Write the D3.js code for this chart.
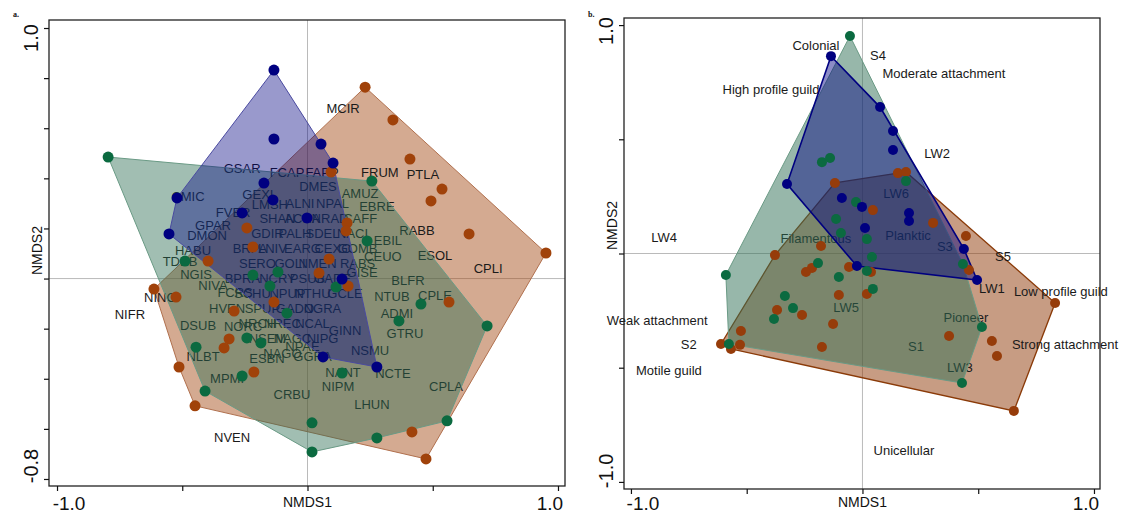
<!DOCTYPE html>
<html><head><meta charset="utf-8">
<script src="https://cdn.jsdelivr.net/npm/d3@7"></script>
<style>body{margin:0;background:#fff;} svg{display:block;font-family:"Liberation Sans",Arial,sans-serif;}</style>
</head><body><svg id="c" width="1131" height="514"></svg>
<script>
// ---------- Panel a data (NMDS1, NMDS2) ----------
const leftBlue = [[-0.134,0.832],[-0.134,0.557],[-0.174,0.381],[-0.521,0.322],[-0.138,0.314],[-0.261,0.262],[-0.553,0.178],[0.054,0.537],[0.102,0.461],[-0.002,0.242],[0.138,-0.002],[0.062,-0.313],[0.277,-0.353]];
const leftGreen = [[-0.796,0.485],[0.257,0.389],[0.238,0.150],[-0.489,0.070],[-0.218,0.014],[-0.118,0.026],[-0.150,-0.030],[-0.082,-0.138],[-0.445,-0.274],[-0.242,-0.237],[-0.186,-0.257],[-0.261,-0.389],[-0.409,-0.449],[0.114,-0.034],[0.453,-0.102],[0.365,-0.169],[0.717,-0.189],[0.138,-0.377],[0.557,-0.568],[0.018,-0.576],[0.277,-0.636],[0.018,-0.692]];
const leftOrange = [[0.230,0.764],[0.341,0.633],[0.409,0.477],[0.537,0.357],[0.493,0.310],[0.645,0.178],[0.952,0.102],[0.094,0.425],[0.158,0.222],[0.154,0.190],[0.086,0.078],[0.046,0.022],[0.162,-0.030],[0.565,-0.094],[0.417,-0.612],[0.473,-0.720],[-0.242,0.202],[-0.218,0.126],[-0.397,0.070],[-0.613,-0.042],[-0.525,-0.074],[-0.293,-0.130],[-0.134,-0.094],[-0.313,-0.241],[-0.333,-0.277],[-0.513,-0.353],[-0.214,-0.373],[-0.449,-0.508]];
const leftLabels = [
 ["MCIR",0.142,0.680],["FRUM",0.289,0.425],["PTLA",0.461,0.417],["RABB",0.437,0.194],["ESOL",0.509,0.094],
 ["CPLI",0.721,0.042],["CPLE",0.509,-0.066],["NTUB",0.337,-0.070],["BLFR",0.401,-0.006],["GISE",0.218,0.026],
 ["CEUO",0.301,0.090],["EBIL",0.321,0.154],["ADMI",0.357,-0.138],["GTRU",0.389,-0.218],["NSMU",0.250,-0.286],
 ["GINN",0.150,-0.206],["NCTE",0.341,-0.377],["NANT",0.142,-0.373],["NIPM",0.122,-0.429],["LHUN",0.257,-0.501],
 ["CPLA",0.553,-0.429],["CRBU",-0.062,-0.461],["NVEN",-0.301,-0.636],["NIFR",-0.709,-0.142],["NINC",-0.589,-0.074],
 ["DSUB",-0.437,-0.189],["NLBT",-0.417,-0.309],["MPMI",-0.321,-0.397],["ESBN",-0.162,-0.317],["NGIS",-0.445,0.018],
 ["TDEB",-0.509,0.070],["NIVA",-0.377,-0.026],["FCRS",-0.289,-0.054],["HVEN",-0.321,-0.118],["NORC",-0.257,-0.193],
 ["HABU",-0.457,0.114],["DMON",-0.401,0.174],["GPAR",-0.377,0.210],["FVER",-0.297,0.262],["CMIC",-0.477,0.326],
 ["GEXI",-0.198,0.337],["GSAR",-0.261,0.441],["FCAP",-0.082,0.425],["FAPP",0.058,0.425],["DMES",0.042,0.369],
 ["AMUZ",0.210,0.341],["EBRE",0.277,0.286],["LMSH",-0.150,0.294],
 ["ALNI",-0.03,0.30],["NPAL",0.10,0.30],["CAFF",0.21,0.24],["SHAN",-0.12,0.24],["ACHA",-0.02,0.24],["NRAD",0.09,0.24],
 ["GDIR",-0.16,0.18],["PALH",-0.05,0.18],["SDEL",0.06,0.18],["NACI",0.18,0.18],["BRPA",-0.23,0.12],["LNIV",-0.14,0.12],
 ["EARG",-0.02,0.12],["CEXC",0.10,0.12],["GOMB",0.20,0.12],["SERO",-0.20,0.06],["GOLI",-0.07,0.06],["NMEN",0.04,0.06],
 ["RABS",0.20,0.06],["BPRA",-0.26,0.00],["NCRY",-0.12,0.00],["PSUB",0.00,0.00],["GADE",0.10,0.00],["SCHU",-0.22,-0.06],
 ["NPUP",-0.08,-0.06],["NTHU",0.02,-0.06],["GCLE",0.15,-0.06],["SPUP",-0.18,-0.12],["GADO",-0.05,-0.12],["NGRA",0.06,-0.12],
 ["NRCH",-0.20,-0.18],["NREC",-0.10,-0.18],["NCAL",0.02,-0.18],["NSEM",-0.16,-0.24],["NAGC",-0.06,-0.24],["NIPG",0.06,-0.24],
 ["NAGO",-0.10,-0.30],["GGRA",0.02,-0.31],["NPAE",-0.02,-0.27]
];
const leftXTicks = [-1.0,-0.5,0,0.5,1.0];
const leftYTicks = [1.0,0.8,0.6,0.4,0.2,0,-0.2,-0.4,-0.6,-0.8];
const leftXTickLabels = ["-1.0","1.0"];
const leftYTickLabels = ["1.0","-0.8"];

// ---------- Panel b data ----------
const rightBlue = [[-0.136,0.864],[0.076,0.641],[0.132,0.536],[0.132,0.453],[-0.326,0.304],[-0.089,0.243],[-0.002,0.204],[0.201,0.177],[0.201,0.142],[0.011,0.112],[0.438,0.020],[-0.024,-0.055],[0.495,-0.116]];
const rightGreen = [[-0.054,0.952],[-0.175,0.400],[-0.140,0.418],[0.188,0.317],[-0.028,0.225],[-0.114,0.151],[-0.093,0.090],[0.019,0.063],[0.041,-0.015],[-0.192,-0.042],[0.019,-0.077],[0.434,-0.046],[-0.102,-0.103],[0.045,-0.155],[-0.335,-0.186],[-0.300,-0.239],[-0.382,-0.287],[0.516,-0.322],[0.430,-0.567],[-0.590,-0.094],[-0.577,-0.396]];
const rightOrange = [[-0.119,0.309],[0.153,0.352],[0.188,0.357],[0.045,0.190],[0.305,0.134],[0.447,0.077],[-0.179,0.033],[-0.378,-0.007],[-0.218,-0.063],[-0.244,-0.081],[-0.058,-0.059],[0.037,-0.081],[0.460,-0.072],[0.019,-0.177],[-0.102,-0.182],[-0.369,-0.247],[-0.261,-0.269],[-0.127,-0.309],[-0.175,-0.409],[0.374,-0.361],[0.559,-0.383],[0.581,-0.449],[0.832,-0.217],[0.654,-0.689],[-0.525,-0.339],[-0.611,-0.396],[-0.568,-0.418],[-0.529,-0.400]];
const rightLabels = [
 ["Colonial",-0.201,0.912],["S4",0.067,0.869],["Moderate attachment",0.352,0.790],["High profile guild",-0.395,0.720],
 ["LW2",0.322,0.440],["LW6",0.145,0.265],["LW4",-0.857,0.072],["Filamentous",-0.201,0.068],["Planktic",0.197,0.081],
 ["S3",0.356,0.033],["S5",0.607,-0.015],["LW1",0.559,-0.151],["Low profile guild",0.857,-0.168],["Pioneer",0.447,-0.278],
 ["Strong attachment",0.875,-0.400],["S1",0.231,-0.409],["LW3",0.421,-0.497],["Unicellular",0.179,-0.864],
 ["LW5",-0.071,-0.234],["Weak attachment",-0.887,-0.291],["S2",-0.750,-0.400],["Motile guild",-0.836,-0.514]
];
const rightXTicks = [-1.0,-0.5,0,0.5,1.0];
const rightYTicks = [1.0,0.5,0,-0.5,-1.0];
const rightXTickLabels = ["-1.0","1.0"];
const rightYTickLabels = ["1.0","-1.0"];

const svg = d3.select("#c");

function drawPanel(P) {
  const g = svg.append("g");
  const x = d3.scaleLinear().domain(P.xDom).range([P.x0, P.x1]);
  const y = d3.scaleLinear().domain(P.yDom).range([P.y0, P.y1]);
  const pts = arr => arr.map(d => [x(d[0]), y(d[1])]);
  const hull = arr => "M" + d3.polygonHull(pts(arr)).join("L") + "Z";

  // zero reference lines
  g.append("line").attr("x1", x(0)).attr("x2", x(0)).attr("y1", P.y0).attr("y2", P.y1)
    .attr("stroke", "#a8a8a8").attr("stroke-width", 0.8);
  g.append("line").attr("x1", P.x0).attr("x2", P.x1).attr("y1", y(0)).attr("y2", y(0))
    .attr("stroke", "#a8a8a8").attr("stroke-width", 0.8);

  const S = P.style;
  g.append("path").attr("d", hull(P.orange)).attr("fill", S.orangeFill).attr("fill-opacity", S.orangeOp)
    .attr("stroke", S.orangeStroke).attr("stroke-width", S.orangeSW);

  g.selectAll("text.lab").data(P.labels).join("text").attr("class", "lab")
    .attr("x", d => x(d[1])).attr("y", d => y(d[2])).attr("dy", "0.35em")
    .attr("text-anchor", "middle").attr("font-size", 13).attr("fill", "#1a1a1a").text(d => d[0]);

  g.append("path").attr("d", hull(P.green)).attr("fill", S.greenFill).attr("fill-opacity", S.greenOp)
    .attr("stroke", S.greenStroke).attr("stroke-width", S.greenSW);
  g.append("path").attr("d", hull(P.blue)).attr("fill", S.blueFill).attr("fill-opacity", S.blueOp)
    .attr("stroke", S.blueStroke).attr("stroke-width", S.blueSW);

  const dots = (arr, col) => g.append("g").selectAll("circle").data(arr).join("circle")
    .attr("cx", d => x(d[0])).attr("cy", d => y(d[1])).attr("r", S.r).attr("fill", col);
  dots(P.orange, S.orangePt);
  dots(P.green, S.greenPt);
  dots(P.blue, S.bluePt);

  // frame
  g.append("rect").attr("x", P.x0).attr("y", P.y0).attr("width", P.x1 - P.x0).attr("height", P.y1 - P.y0)
    .attr("fill", "none").attr("stroke", "#222").attr("stroke-width", 1.3);

  // axes ticks
  const ax = g.append("g").attr("transform", `translate(0,${P.y1})`)
    .call(d3.axisBottom(x).tickValues(P.xTicks).tickSize(5).tickFormat(""));
  ax.select(".domain").remove();
  ax.selectAll("line").attr("stroke", "#111").attr("stroke-width", 1.2);
  const ay = g.append("g").attr("transform", `translate(${P.x0},0)`)
    .call(d3.axisLeft(y).tickValues(P.yTicks).tickSize(5).tickFormat(""));
  ay.select(".domain").remove();
  ay.selectAll("line").attr("stroke", "#111").attr("stroke-width", 1.2);

  // tick labels (only extremes labelled)
  const xl = P.xTickLabels;
  g.append("text").attr("x", x(+xl[0]) + 12).attr("y", 510).attr("text-anchor", "middle")
    .attr("font-size", 19).attr("fill", "#111").text(xl[0]);
  g.append("text").attr("x", x(+xl[1]) - 8).attr("y", 510).attr("text-anchor", "middle")
    .attr("font-size", 19).attr("fill", "#111").text(xl[1]);
  const yl = P.yTickLabels;
  const ytl = (v, off) => g.append("text")
    .attr("transform", `translate(${P.x0 - 11},${y(+v) + off}) rotate(-90)`)
    .attr("text-anchor", "middle").attr("font-size", 20).attr("fill", "#111").text(v);
  ytl(yl[0], P.topOff);
  ytl(yl[1], P.botOff);

  // axis titles
  g.append("text").attr("x", x(0)).attr("y", 507).attr("text-anchor", "middle")
    .attr("font-size", 14).attr("fill", "#111").text("NMDS1");
  g.append("text").attr("transform", `translate(${P.x0 - 7},${y(0) - 28}) rotate(-90)`)
    .attr("text-anchor", "middle").attr("font-size", 14).attr("fill", "#111").text("NMDS2");

  g.append("text").attr("x", P.x0 - 36).attr("y", 17).attr("font-size", 8).attr("font-weight", "bold")
    .attr("font-family", "Liberation Serif, serif").attr("fill", "#111").text(P.tag);
}

drawPanel({
  xDom: [-1.032, 1.028], yDom: [1.032, -0.828], x0: 49, x1: 565, y0: 20, y1: 486,
  blue: leftBlue, green: leftGreen, orange: leftOrange, labels: leftLabels,
  xTicks: leftXTicks, yTicks: leftYTicks, xTickLabels: leftXTickLabels, yTickLabels: leftYTickLabels,
  topOff: 10, botOff: -13, tag: "a.",
  style: { r: 5.5,
    orangeFill: "#a0420a", orangeOp: 0.45, orangeStroke: "#b0704e", orangeSW: 1,
    greenFill: "#2f6f55", greenOp: 0.45, greenStroke: "#6a9a85", greenSW: 1,
    blueFill: "#000080", blueOp: 0.4, blueStroke: "#4a4aa0", blueSW: 1,
    orangePt: "#a0420a", greenPt: "#0b6a40", bluePt: "#000080" }
});

drawPanel({
  xDom: [-1.03, 1.026], yDom: [1.031, -1.031], x0: 624, x1: 1100, y0: 18, y1: 489,
  blue: rightBlue, green: rightGreen, orange: rightOrange, labels: rightLabels,
  xTicks: rightXTicks, yTicks: rightYTicks, xTickLabels: rightXTickLabels, yTickLabels: rightYTickLabels,
  topOff: 6, botOff: -11, tag: "b.",
  style: { r: 5,
    orangeFill: "#8f3a08", orangeOp: 0.5, orangeStroke: "#8a3a08", orangeSW: 1.3,
    greenFill: "#2f6f55", greenOp: 0.5, greenStroke: "#6a9a85", greenSW: 1,
    blueFill: "#000080", blueOp: 0.45, blueStroke: "#000080", blueSW: 1.6,
    orangePt: "#963c0a", greenPt: "#0b6a40", bluePt: "#000080" }
});
</script>
</body></html>
